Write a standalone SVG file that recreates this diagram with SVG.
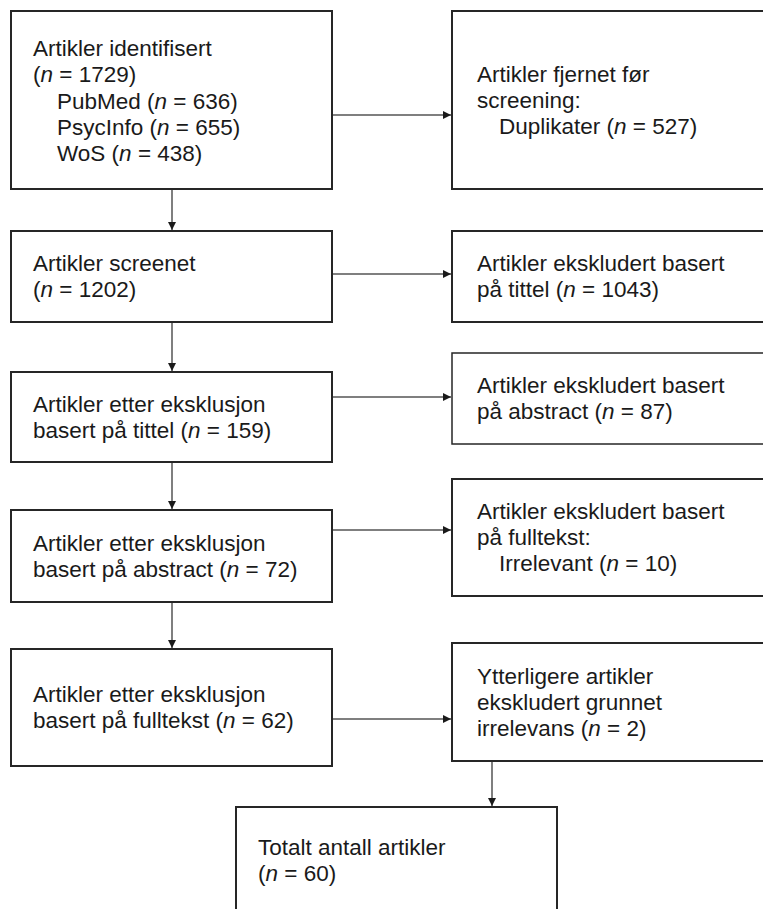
<svg xmlns="http://www.w3.org/2000/svg" width="763" height="909" viewBox="0 0 763 909">
<style>
.box{fill:#fff;stroke:#262626;stroke-width:2}
.t{font-family:"Liberation Sans",Arial,sans-serif;font-size:22.5px;fill:#1a1a1a}
.c{stroke:#555;stroke-width:1.5;fill:none}
</style>
<defs>
<marker id="ah" viewBox="0 0 10 10" refX="10" refY="5" markerWidth="9" markerHeight="8" markerUnits="userSpaceOnUse" orient="auto">
<path d="M0,0 L10,5 L0,10 Z" fill="#1a1a1a"/>
</marker>
</defs>
<rect width="763" height="909" fill="#fff"/>
<g id="connectors">
<line class="c" x1="332" y1="115" x2="451" y2="115" marker-end="url(#ah)"/>
<line class="c" x1="332" y1="274" x2="451" y2="274" marker-end="url(#ah)"/>
<line class="c" x1="332" y1="397" x2="451" y2="397" marker-end="url(#ah)"/>
<line class="c" x1="332" y1="530" x2="451" y2="530" marker-end="url(#ah)"/>
<line class="c" x1="332" y1="719" x2="451" y2="719" marker-end="url(#ah)"/>
<line class="c" x1="172" y1="189" x2="172" y2="230" marker-end="url(#ah)"/>
<line class="c" x1="172" y1="322" x2="172" y2="371" marker-end="url(#ah)"/>
<line class="c" x1="172" y1="462" x2="172" y2="509" marker-end="url(#ah)"/>
<line class="c" x1="172" y1="602" x2="172" y2="648" marker-end="url(#ah)"/>
<line class="c" x1="492" y1="761" x2="492" y2="806" marker-end="url(#ah)"/>
</g>
<g id="n1">
<rect class="box" x="11" y="11" width="321" height="178"/>
<text class="t" x="33" y="56">Artikler identifisert</text>
<text class="t" x="33" y="82">(<tspan font-style="italic">n</tspan> = 1729)</text>
<text class="t" x="57" y="109">PubMed (<tspan font-style="italic">n</tspan> = 636)</text>
<text class="t" x="57" y="135">PsycInfo (<tspan font-style="italic">n</tspan> = 655)</text>
<text class="t" x="57" y="161">WoS (<tspan font-style="italic">n</tspan> = 438)</text>
</g>
<g id="n2">
<rect class="box" x="452" y="11" width="320" height="178"/>
<text class="t" x="477" y="82">Artikler fjernet før</text>
<text class="t" x="477" y="108">screening:</text>
<text class="t" x="499" y="134">Duplikater (<tspan font-style="italic">n</tspan> = 527)</text>
</g>
<g id="n3">
<rect class="box" x="11" y="231" width="321" height="91"/>
<text class="t" x="33" y="271">Artikler screenet</text>
<text class="t" x="33" y="297">(<tspan font-style="italic">n</tspan> = 1202)</text>
</g>
<g id="n4">
<rect class="box" x="452" y="231" width="320" height="91"/>
<text class="t" x="477" y="271">Artikler ekskludert basert</text>
<text class="t" x="477" y="297">på tittel (<tspan font-style="italic">n</tspan> = 1043)</text>
</g>
<g id="n5">
<rect class="box" x="11" y="372" width="321" height="90"/>
<text class="t" x="33" y="412">Artikler etter eksklusjon</text>
<text class="t" x="33" y="438">basert på tittel (<tspan font-style="italic">n</tspan> = 159)</text>
</g>
<g id="n6">
<rect class="box" x="452" y="353" width="320" height="91" style="stroke-width:1.5"/>
<text class="t" x="477" y="393">Artikler ekskludert basert</text>
<text class="t" x="477" y="419">på abstract (<tspan font-style="italic">n</tspan> = 87)</text>
</g>
<g id="n7">
<rect class="box" x="11" y="510" width="321" height="92"/>
<text class="t" x="33" y="551">Artikler etter eksklusjon</text>
<text class="t" x="33" y="577">basert på abstract (<tspan font-style="italic">n</tspan> = 72)</text>
</g>
<g id="n8">
<rect class="box" x="452" y="479" width="320" height="117"/>
<text class="t" x="477" y="519">Artikler ekskludert basert</text>
<text class="t" x="477" y="545">på fulltekst:</text>
<text class="t" x="499" y="571">Irrelevant (<tspan font-style="italic">n</tspan> = 10)</text>
</g>
<g id="n9">
<rect class="box" x="11" y="649" width="321" height="117"/>
<text class="t" x="33" y="702">Artikler etter eksklusjon</text>
<text class="t" x="33" y="728">basert på fulltekst (<tspan font-style="italic">n</tspan> = 62)</text>
</g>
<g id="n10">
<rect class="box" x="452" y="643" width="320" height="118"/>
<text class="t" x="477" y="684">Ytterligere artikler</text>
<text class="t" x="477" y="710">ekskludert grunnet</text>
<text class="t" x="477" y="736">irrelevans (<tspan font-style="italic">n</tspan> = 2)</text>
</g>
<g id="n11">
<rect class="box" x="236" y="807" width="321" height="110"/>
<text class="t" x="258" y="855">Totalt antall artikler</text>
<text class="t" x="258" y="881">(<tspan font-style="italic">n</tspan> = 60)</text>
</g>
</svg>
